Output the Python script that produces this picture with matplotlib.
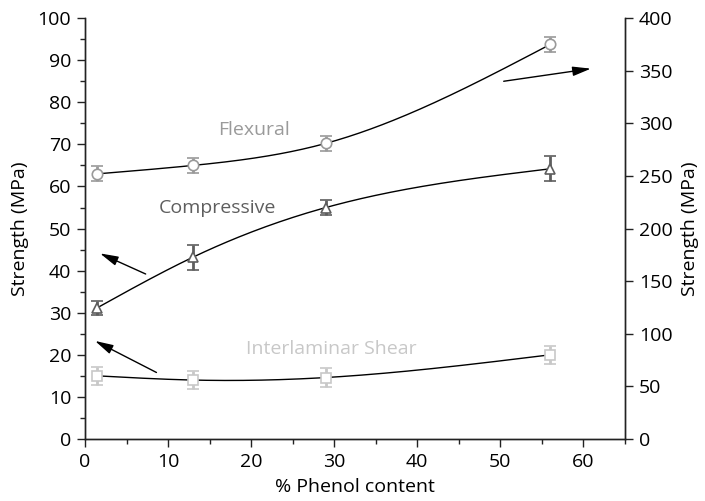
import numpy as np
import matplotlib
matplotlib.use("Agg")
import matplotlib.pyplot as plt

plt.rcParams['font.family'] = ['Open Sans', 'DejaVu Sans']

phenol = [1.5, 13, 29, 56]
flexural = [252, 260, 281, 375]          # right axis (MPa)
flexural_err = [7, 7, 7, 7]
compressive = [31.2, 43.2, 55.0, 64.2]   # left axis (MPa)
compressive_err = [1.7, 3.0, 1.8, 3.0]
shear = [15.0, 14.0, 14.6, 20.0]         # left axis (MPa)
shear_err = [2.2, 2.2, 2.2, 2.1]

c_flex = '#9a9a9a'
c_comp = '#5e5e5e'
c_shear = '#c8c8c8'

fig = plt.figure(figsize=(7.05, 5.01), dpi=100)
ax = fig.add_axes([0.1206, 0.1238, 0.7659, 0.840])
ax2 = ax.twinx()


def trend(x, y, n=200):
    """Natural cubic spline through the points."""
    x = np.asarray(x, float)
    y = np.asarray(y, float)
    k = len(x)
    h = np.diff(x)
    A = np.zeros((k, k))
    b = np.zeros(k)
    A[0, 0] = A[-1, -1] = 1.0
    for i in range(1, k - 1):
        A[i, i - 1] = h[i - 1]
        A[i, i] = 2 * (h[i - 1] + h[i])
        A[i, i + 1] = h[i]
        b[i] = 6 * ((y[i + 1] - y[i]) / h[i] - (y[i] - y[i - 1]) / h[i - 1])
    M = np.linalg.solve(A, b)
    xs = np.linspace(x[0], x[-1], n)
    idx = np.clip(np.searchsorted(x, xs) - 1, 0, k - 2)
    x0, x1 = x[idx], x[idx + 1]
    hh = x1 - x0
    t0, t1 = x1 - xs, xs - x0
    ys = (M[idx] * t0 ** 3 / (6 * hh) + M[idx + 1] * t1 ** 3 / (6 * hh)
          + (y[idx] / hh - M[idx] * hh / 6) * t0
          + (y[idx + 1] / hh - M[idx + 1] * hh / 6) * t1)
    return xs, ys


fs = 14

# trend curves
xs, ys = trend(phenol, compressive)
ax.plot(xs, ys, color='black', lw=1.0, zorder=2)
xs, ys = trend(phenol, shear)
ax.plot(xs, ys, color='black', lw=1.0, zorder=2)
xs, ys = trend(phenol, flexural)
ax2.plot(xs, ys, color='black', lw=1.0, zorder=2)

# data points with error bars
eb = dict(ms=7.5, mfc='white', mew=1.2, elinewidth=2, capsize=4,
          capthick=2.5, zorder=3)
ax.errorbar(phenol, compressive, yerr=compressive_err, fmt='^',
            mec=c_comp, ecolor=c_comp, **eb)
ax.errorbar(phenol, shear, yerr=shear_err, fmt='s',
            mec=c_shear, ecolor=c_shear, **{**eb, 'ms': 7})
ax2.errorbar(phenol, flexural, yerr=flexural_err, fmt='o',
             mec=c_flex, ecolor=c_flex, **eb)

# series labels
ax.text(20.4, 73.5, 'Flexural', color=c_flex, fontsize=fs, ha='center', va='center')
ax.text(16.0, 54.8, 'Compressive', color=c_comp, fontsize=fs, ha='center', va='center')
ax.text(29.6, 21.3, 'Interlaminar Shear', color=c_shear, fontsize=fs, ha='center', va='center')

# arrows pointing to the relevant axis
arrow = dict(arrowstyle='-|>,head_length=0.85,head_width=0.22', color='black',
             lw=1.0, mutation_scale=13, shrinkA=0, shrinkB=0)
ax.annotate('', xy=(1.8, 44.1), xytext=(7.3, 39.2), arrowprops=arrow)
ax.annotate('', xy=(1.2, 23.3), xytext=(8.6, 15.8), arrowprops=arrow)
ax.annotate('', xy=(60.9, 88.0), xytext=(50.4, 85.0), arrowprops=arrow)

ax.set_xlim(0, 65)
ax.set_ylim(0, 100)
ax2.set_ylim(0, 400)

ax.set_xticks(range(0, 61, 10))
ax.set_xticks(range(5, 66, 10), minor=True)
ax.set_yticks(range(0, 101, 10))
ax.set_yticks(range(5, 100, 10), minor=True)
ax2.set_yticks(range(0, 401, 50))

for a in (ax, ax2):
    a.spines['top'].set_visible(False)
    for s in a.spines.values():
        s.set_linewidth(1.0)
        s.set_color('#222222')
    a.tick_params(which='major', direction='out', length=6, width=1.0, pad=4,
                  labelsize=fs, colors='#222222', labelcolor='black')
    a.tick_params(which='minor', direction='out', length=3.5, width=1.0, colors='#222222')

ax.set_xlabel('% Phenol content', fontsize=fs, labelpad=5)
ax.set_ylabel('Strength (MPa)', fontsize=fs, labelpad=6)
ax2.set_ylabel('Strength (MPa)', fontsize=fs, labelpad=6)

fig.savefig('out.png', dpi=100)
